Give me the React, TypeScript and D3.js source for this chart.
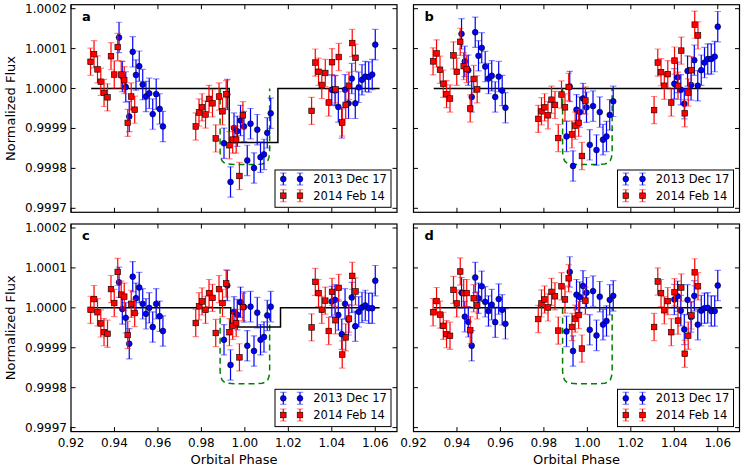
import React from 'react';
import * as d3 from 'd3';

// ---------- data (flux deviations in ppm; flux = 1 + ppm * 1e-6) ----------
const RED_PHASE = [0.9290,0.9306,0.9322,0.9337,0.9352,0.9368,0.9384,0.9399,0.9415,0.9431,0.9445,0.9461,0.9477,0.9493,
  0.9774,0.9789,0.9803,0.9819,0.9835,0.9851,0.9866,0.9881,0.9897,0.9914,0.9929,0.9944,0.9960,0.9975,0.9991,
  1.0307,1.0324,1.0339,1.0354,1.0370,1.0386,1.0401,1.0417,1.0432,1.0448,1.0464,1.0479,1.0494,1.0509];
const BLUE_PHASE = [0.9421,0.9436,0.9452,0.9468,0.9484,0.9499,0.9514,0.9530,0.9545,0.9560,0.9576,0.9592,0.9608,0.9623,
  0.9904,0.9919,0.9934,0.9950,0.9965,0.9980,0.9996,1.0011,1.0026,1.0042,1.0057,1.0072,1.0088,1.0103,1.0119,
  1.0400,1.0415,1.0430,1.0446,1.0461,1.0477,1.0492,1.0508,1.0524,1.0539,1.0554,1.0570,1.0586,1.0600];

const RED_A = [67,86,48,17,-11,-22,81,35,104,35,21,-86,-20,-53,
  -95,-60,-47,-65,-26,-37,-125,-20,-57,-14,-142,-128,-128,-219,-67,
  -56,65,42,9,39,-35,66,-2,79,-85,-41,7,114,77];
const BLUE_A = [128,30,4,-70,92,34,56,10,-20,-12,-64,-14,-51,-95,
  -137,-15,-234,-99,-107,-80,-95,-180,-88,-199,-103,-172,-165,-111,-62,
  -3,-5,-46,-86,-3,-37,25,-37,3,22,30,29,35,110];

const RED_B = [68,88,47,12,-14,-25,83,42,117,56,49,-50,24,-2,
  -76,-57,-47,-67,-28,-41,-124,-15,-47,4,-115,-93,-86,-169,-30,
  -54,65,41,7,36,-35,70,7,95,-62,-10,46,160,133];
const BLUE_B = [137,68,46,-21,141,82,102,55,25,32,-21,30,-5,-48,
  -120,5,-194,-53,-59,-25,-47,-141,-44,-154,-59,-128,-120,-66,-32,
  12,28,-3,-38,44,9,71,7,46,65,74,74,80,155];

const RED_C = [-5,22,-11,-39,-61,-65,47,12,90,33,28,-68,10,-13,
  -38,4,16,-5,37,25,-63,47,12,61,-61,-45,-38,-124,2,
  -49,65,37,-5,18,-58,40,-31,50,-117,-74,-27,80,41];
const BLUE_C = [64,-3,-25,-90,78,24,51,10,-15,0,-48,10,-21,-58,
  -80,56,-143,-10,-17,14,2,-95,3,-108,-12,-80,-73,-19,3,
  16,20,-18,-66,10,-30,26,-46,-10,1,6,-1,-1,68];

const RED_D = [-11,17,-17,-45,-66,-70,45,11,91,37,37,-56,24,6,
  -28,11,21,1,40,29,-57,54,21,74,-48,-27,-18,-102,18,
  -48,66,37,-6,17,-61,39,-32,51,-115,-70,-19,89,54];
const BLUE_D = [38,-22,-35,-95,76,24,54,15,-8,8,-36,22,-5,-40,
  -59,90,-108,33,27,55,38,-55,42,-69,28,-42,-33,20,30,
  21,29,-7,-54,20,-23,30,-42,-7,-1,0,-8,-8,56];

const BLUE_ERR = 38;
const RED_ERR = 34;

// step models (black)
const MODEL_A_PHASE = [0.9293, 0.9928, 0.9928, 1.0152, 1.0152, 1.0620];
const MODEL_A_PPM = [0, 0, -135, -135, 0, 0];
const MODEL_B_PHASE = [0.9293, 1.0620];
const MODEL_B_PPM = [0, 0];
const MODEL_C_PHASE = [0.9293, 0.9935, 0.9935, 1.0164, 1.0164, 1.0620];
const MODEL_C_PPM = [0, 0, -48, -48, 0, 0];
const MODEL_D_PHASE = [0.9293, 1.0620];
const MODEL_D_PPM = [0, 0];

// green dashed transit curve
const GREEN_PHASE = [0.9886, 0.9886, 0.9889, 0.9895, 0.9905, 0.9920, 0.9950, 1.0000, 1.0050, 1.0080, 1.0095, 1.0105, 1.0111, 1.0114, 1.0114];
const GREEN_PPM = [0, -160, -172, -181, -186, -189, -190, -190, -190, -189, -186, -181, -172, -160, 0];

const X_TICKS = [0.92, 0.94, 0.96, 0.98, 1.00, 1.02, 1.04, 1.06];
const Y_TICKS = [0.9997, 0.9998, 0.9999, 1.0000, 1.0001, 1.0002];
const SERIES_LABELS = ['2013 Dec 17', '2014 Feb 14'];

const PANELS = [
  { id: 'a', col: 0, row: 0, red: RED_A, blue: BLUE_A, mx: MODEL_A_PHASE, my: MODEL_A_PPM },
  { id: 'b', col: 1, row: 0, red: RED_B, blue: BLUE_B, mx: MODEL_B_PHASE, my: MODEL_B_PPM },
  { id: 'c', col: 0, row: 1, red: RED_C, blue: BLUE_C, mx: MODEL_C_PHASE, my: MODEL_C_PPM },
  { id: 'd', col: 1, row: 1, red: RED_D, blue: BLUE_D, mx: MODEL_D_PHASE, my: MODEL_D_PPM },
];

// ---------- layout ----------
const COL_X = [71, 413.5];
const ROW_Y = [4.7, 224];
const PW = 326;
const PH = 207.6;
const FONT = 'DejaVu Sans, Bitstream Vera Sans, sans-serif';
const TICK = 4.5;

const toFlux = (ppm: number) => 1 + ppm * 1e-6;

function ErrPoints({ phases, ppm, err, color, shape, x, y }: any) {
  return (
    <g>
      {phases.map((ph: number, i: number) => {
        const cx = x(ph);
        const cy = y(toFlux(ppm[i]));
        const yt = y(toFlux(ppm[i] + err));
        const yb = y(toFlux(ppm[i] - err));
        return (
          <g key={i}>
            <line x1={cx} x2={cx} y1={yt} y2={yb} stroke={color} strokeWidth={1.2} />
            <line x1={cx - 3.2} x2={cx + 3.2} y1={yt} y2={yt} stroke={color} strokeOpacity={0.45} strokeWidth={1.2} />
            <line x1={cx - 3.2} x2={cx + 3.2} y1={yb} y2={yb} stroke={color} strokeOpacity={0.45} strokeWidth={1.2} />
            {shape === 'circle' ? (
              <circle cx={cx} cy={cy} r={2.9} fill={color} stroke="#000" strokeWidth={0.6} />
            ) : (
              <rect x={cx - 2.8} y={cy - 2.8} width={5.6} height={5.6} fill={color} stroke="#000" strokeWidth={0.6} />
            )}
          </g>
        );
      })}
    </g>
  );
}

function LegendEntry({ x0, yy, color, shape, label }: any) {
  const xs = [x0 + 212.3, x0 + 229];
  return (
    <g>
      {xs.map((cx, k) => (
        <g key={k}>
          <line x1={cx} x2={cx} y1={yy - 6} y2={yy + 6} stroke={color} strokeWidth={1.2} />
          <line x1={cx - 3.2} x2={cx + 3.2} y1={yy - 6} y2={yy - 6} stroke={color} strokeOpacity={0.45} strokeWidth={1.2} />
          <line x1={cx - 3.2} x2={cx + 3.2} y1={yy + 6} y2={yy + 6} stroke={color} strokeOpacity={0.45} strokeWidth={1.2} />
          {shape === 'circle' ? (
            <circle cx={cx} cy={yy} r={2.9} fill={color} stroke="#000" strokeWidth={0.6} />
          ) : (
            <rect x={cx - 2.8} y={yy - 2.8} width={5.6} height={5.6} fill={color} stroke="#000" strokeWidth={0.6} />
          )}
        </g>
      ))}
      <text x={x0 + 242.3} y={yy} dominantBaseline="central" fontSize={11.5} fontFamily={FONT} fill="#000">{label}</text>
    </g>
  );
}

function Panel({ p }: any) {
  const x0 = COL_X[p.col];
  const y0 = ROW_Y[p.row];
  const x = d3.scaleLinear().domain([0.92, 1.07]).range([x0, x0 + PW]);
  const y = d3.scaleLinear().domain([0.99969, 1.00021]).range([y0 + PH, y0]);
  const line = d3.line<[number, number]>().x((d) => x(d[0])).y((d) => y(toFlux(d[1])));
  const model = line(p.mx.map((v: number, i: number) => [v, p.my[i]]));
  const green = line(GREEN_PHASE.map((v, i) => [v, GREEN_PPM[i]] as [number, number]));
  const y1 = y0 + PH;
  const x1 = x0 + PW;
  const clipId = 'clip-' + p.id;
  return (
    <g>
      <defs>
        <clipPath id={clipId}>
          <rect x={x0} y={y0} width={PW} height={PH} />
        </clipPath>
      </defs>
      <g clipPath={`url(#${clipId})`}>
        <path d={green || ''} fill="none" stroke="#008000" strokeWidth={1.5} strokeDasharray="6,4" />
        <path d={model || ''} fill="none" stroke="#000" strokeWidth={1.5} />
        <ErrPoints phases={BLUE_PHASE} ppm={p.blue} err={BLUE_ERR} color="#0000ff" shape="circle" x={x} y={y} />
        <ErrPoints phases={RED_PHASE} ppm={p.red} err={RED_ERR} color="#ff0000" shape="square" x={x} y={y} />
      </g>
      {/* ticks */}
      {X_TICKS.map((t) => (
        <g key={'xt' + t}>
          <line x1={x(t)} x2={x(t)} y1={y1} y2={y1 - TICK} stroke="#000" strokeWidth={1} />
          <line x1={x(t)} x2={x(t)} y1={y0} y2={y0 + TICK} stroke="#000" strokeWidth={1} />
          {p.row === 1 && (
            <text x={x(t)} y={y1 + 15} textAnchor="middle" fontSize={12} fontFamily={FONT} fill="#000">{t.toFixed(2)}</text>
          )}
        </g>
      ))}
      {Y_TICKS.map((t) => (
        <g key={'yt' + t}>
          <line x1={x0} x2={x0 + TICK} y1={y(t)} y2={y(t)} stroke="#000" strokeWidth={1} />
          <line x1={x1} x2={x1 - TICK} y1={y(t)} y2={y(t)} stroke="#000" strokeWidth={1} />
          {p.col === 0 && (
            <text x={x0 - 4} y={y(t)} textAnchor="end" dominantBaseline="central" fontSize={12} fontFamily={FONT} fill="#000">{t.toFixed(4)}</text>
          )}
        </g>
      ))}
      <rect x={x0} y={y0} width={PW} height={PH} fill="none" stroke="#000" strokeWidth={1.2} />
      <text x={x0 + 11} y={y0 + 16} fontSize={13} fontWeight="bold" fontFamily={FONT} fill="#000">{p.id}</text>
      {/* legend */}
      <rect x={x0 + 204} y={y1 - 42.3} width={116} height={37.3} fill="#fff" stroke="#000" strokeWidth={1} />
      <LegendEntry x0={x0} yy={y1 - 33.3} color="#0000ff" shape="circle" label={SERIES_LABELS[0]} />
      <LegendEntry x0={x0} yy={y1 - 16.6} color="#ff0000" shape="square" label={SERIES_LABELS[1]} />
      {p.col === 0 && (
        <text transform={`translate(15,${y0 + PH / 2}) rotate(-90)`} textAnchor="middle" fontSize={13} fontFamily={FONT} fill="#000">Normalized Flux</text>
      )}
      {p.row === 1 && (
        <text x={x0 + PW / 2} y={464} textAnchor="middle" fontSize={13} fontFamily={FONT} fill="#000">Orbital Phase</text>
      )}
    </g>
  );
}

export default function App() {
  return (
    <svg width={747} height={467} style={{ position: 'absolute', left: 0, top: 0, background: '#fff' }}>
      <rect x={0} y={0} width={747} height={467} fill="#fff" />
      {PANELS.map((p) => (
        <Panel key={p.id} p={p} />
      ))}
    </svg>
  );
}
